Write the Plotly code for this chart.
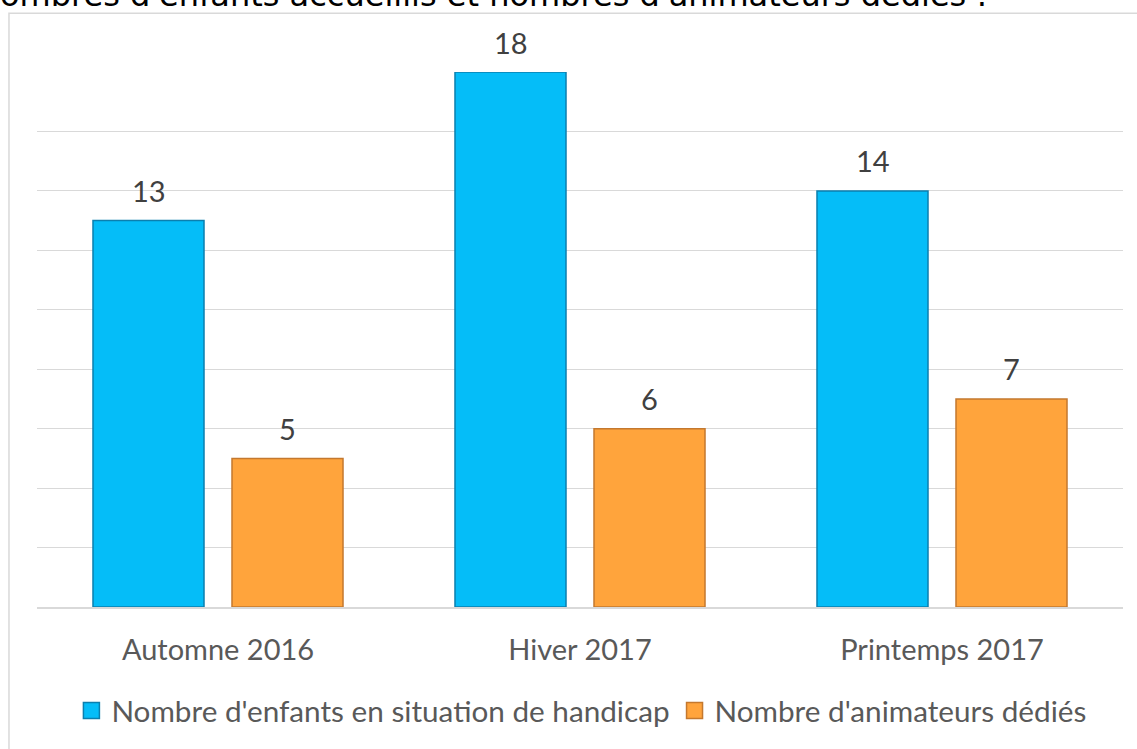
import plotly.graph_objects as go

categories = ["Automne 2016", "Hiver 2017", "Printemps 2017"]
enfants = [13, 18, 14]
animateurs = [5, 6, 7]
series_names = ["Nombre d'enfants en situation de handicap", "Nombre d'animateurs dédiés"]
title_text = "Nombres d'enfants accueillis et nombres d'animateurs dédiés :"

BLUE = "#05BDF8"
BLUE_EDGE = "#0B7FAE"
ORANGE = "#FFA43C"
ORANGE_EDGE = "#C4782E"
LABEL_FONT = dict(family="Lato", size=29, color="#595959")

fig = go.Figure()
for vals, name, col, edge in ((enfants, series_names[0], BLUE, BLUE_EDGE),
                              (animateurs, series_names[1], ORANGE, ORANGE_EDGE)):
    fig.add_trace(go.Bar(x=categories, y=vals, name=name, showlegend=False,
                         marker=dict(color=col, line=dict(color=edge, width=1.5))))
# legend entries with larger square symbols
for name, col, edge in ((series_names[0], BLUE, BLUE_EDGE), (series_names[1], ORANGE, ORANGE_EDGE)):
    fig.add_trace(go.Scatter(x=[None], y=[None], mode="markers", name=name, showlegend=True,
                             marker=dict(symbol="square", size=18, color=col,
                                         line=dict(color=edge, width=1.5))))

annotations = []
for vals, shift in ((enfants, -69.5), (animateurs, 69.5)):
    for c, v in zip(categories, vals):
        annotations.append(dict(x=c, y=v, xref="x", yref="y", text=str(v), showarrow=False,
                                xshift=shift, yshift=30, yanchor="middle",
                                font=dict(family="Lato", size=29, color="#404040")))

annotations.append(dict(text=title_text, xref="paper", yref="paper", x=-0.058, y=1.1055,
                        xanchor="left", yanchor="bottom", showarrow=False,
                        font=dict(family="DejaVu Sans", size=32, color="#000000")))

fig.update_layout(
    width=1137, height=749,
    margin=dict(l=37, r=14, t=72, b=140),
    paper_bgcolor="white", plot_bgcolor="white",
    barmode="group", bargap=0.232, bargroupgap=0.2014,
    showlegend=True,
    legend=dict(orientation="h", x=0.5013, xanchor="center", y=-0.194, yanchor="middle",
                font=dict(family="Lato", size=29.7, color="#595959"), traceorder="normal"),
    xaxis=dict(showgrid=False, showline=True, linecolor="#D9D9D9", linewidth=1.5,
               tickfont=LABEL_FONT, ticks="", ticklabelstandoff=16),
    yaxis=dict(range=[0, 18], dtick=2, showgrid=True, gridcolor="#D9D9D9", gridwidth=1,
               showticklabels=False, zeroline=False, showline=False),
    annotations=annotations,
    shapes=[dict(type="rect", xref="paper", yref="paper", x0=-0.0258, x1=1.3, y0=-0.6, y1=1.1099,
                 line=dict(color="#D9D9D9", width=1.5), fillcolor="rgba(0,0,0,0)", layer="above")],
)

fig.write_html("out.html", config={"displayModeBar": False},
               post_script="document.body.style.margin='0';document.body.style.overflow='hidden';")
